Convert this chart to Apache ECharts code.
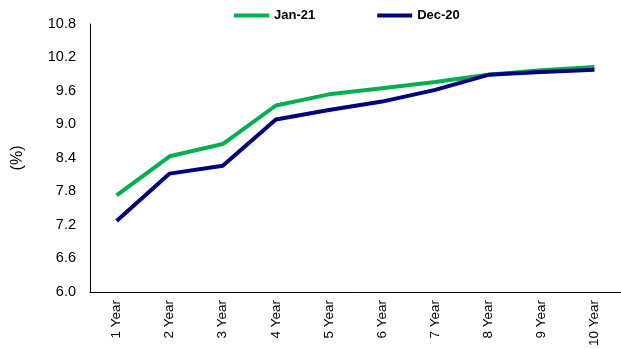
<!DOCTYPE html>
<html>
<head>
<meta charset="utf-8">
<script src="https://cdn.jsdelivr.net/npm/echarts@6/dist/echarts.min.js"></script>
<style>
  html, body { margin: 0; padding: 0; background: #fff; }
  #main { width: 621px; height: 349px; }
</style>
</head>
<body>
<div id="main"></div>
<script>
var tenors = ['1 Year', '2 Year', '3 Year', '4 Year', '5 Year', '6 Year', '7 Year', '8 Year', '9 Year', '10 Year'];
var jan21 = [7.73, 8.43, 8.65, 9.34, 9.54, 9.65, 9.76, 9.89, 9.97, 10.03];
var dec20 = [7.27, 8.12, 8.26, 9.09, 9.26, 9.41, 9.62, 9.89, 9.94, 9.98];
var yTicks = { min: 6.0, max: 10.8, step: 0.6 };

var myChart = echarts.init(document.getElementById('main'));

var option = {
  color: ['#00b050', '#000080'],
  animation: false,
  legend: {
    left: 229,
    top: 4,
    itemWidth: 35,
    itemHeight: 4,
    itemGap: 62,
    icon: 'rect',
    textStyle: { fontFamily: 'Liberation Sans', fontWeight: 'bold', fontSize: 13, color: '#000' },
    data: ['Jan-21', 'Dec-20']
  },
  grid: { left: 90, right: -9, top: 24, bottom: 56 },
  xAxis: {
    type: 'category',
    data: tenors,
    boundaryGap: true,
    axisLine: { lineStyle: { color: '#000', width: 1 } },
    axisTick: { show: false },
    axisLabel: {
      rotate: 90,
      interval: 0,
      margin: 8,
      fontFamily: 'Liberation Sans',
      fontSize: 13.5,
      color: '#000'
    }
  },
  yAxis: {
    type: 'value',
    min: yTicks.min,
    max: yTicks.max,
    interval: yTicks.step,
    name: '(%)',
    nameLocation: 'middle',
    nameGap: 64,
    nameRotate: 90,
    nameTextStyle: { fontFamily: 'Liberation Sans', fontSize: 16, color: '#000' },
    axisLine: { show: true, lineStyle: { color: '#000', width: 1 } },
    axisTick: { show: false },
    splitLine: { show: false },
    axisLabel: {
      margin: 14,
      fontFamily: 'Liberation Sans',
      fontSize: 14.5,
      color: '#000',
      formatter: function (v) { return v.toFixed(1); }
    }
  },
  series: [
    {
      name: 'Jan-21',
      type: 'line',
      data: jan21,
      symbol: 'none',
      lineStyle: { width: 4 }
    },
    {
      name: 'Dec-20',
      type: 'line',
      data: dec20,
      symbol: 'none',
      lineStyle: { width: 4 }
    }
  ]
};

myChart.setOption(option);
</script>
</body>
</html>
